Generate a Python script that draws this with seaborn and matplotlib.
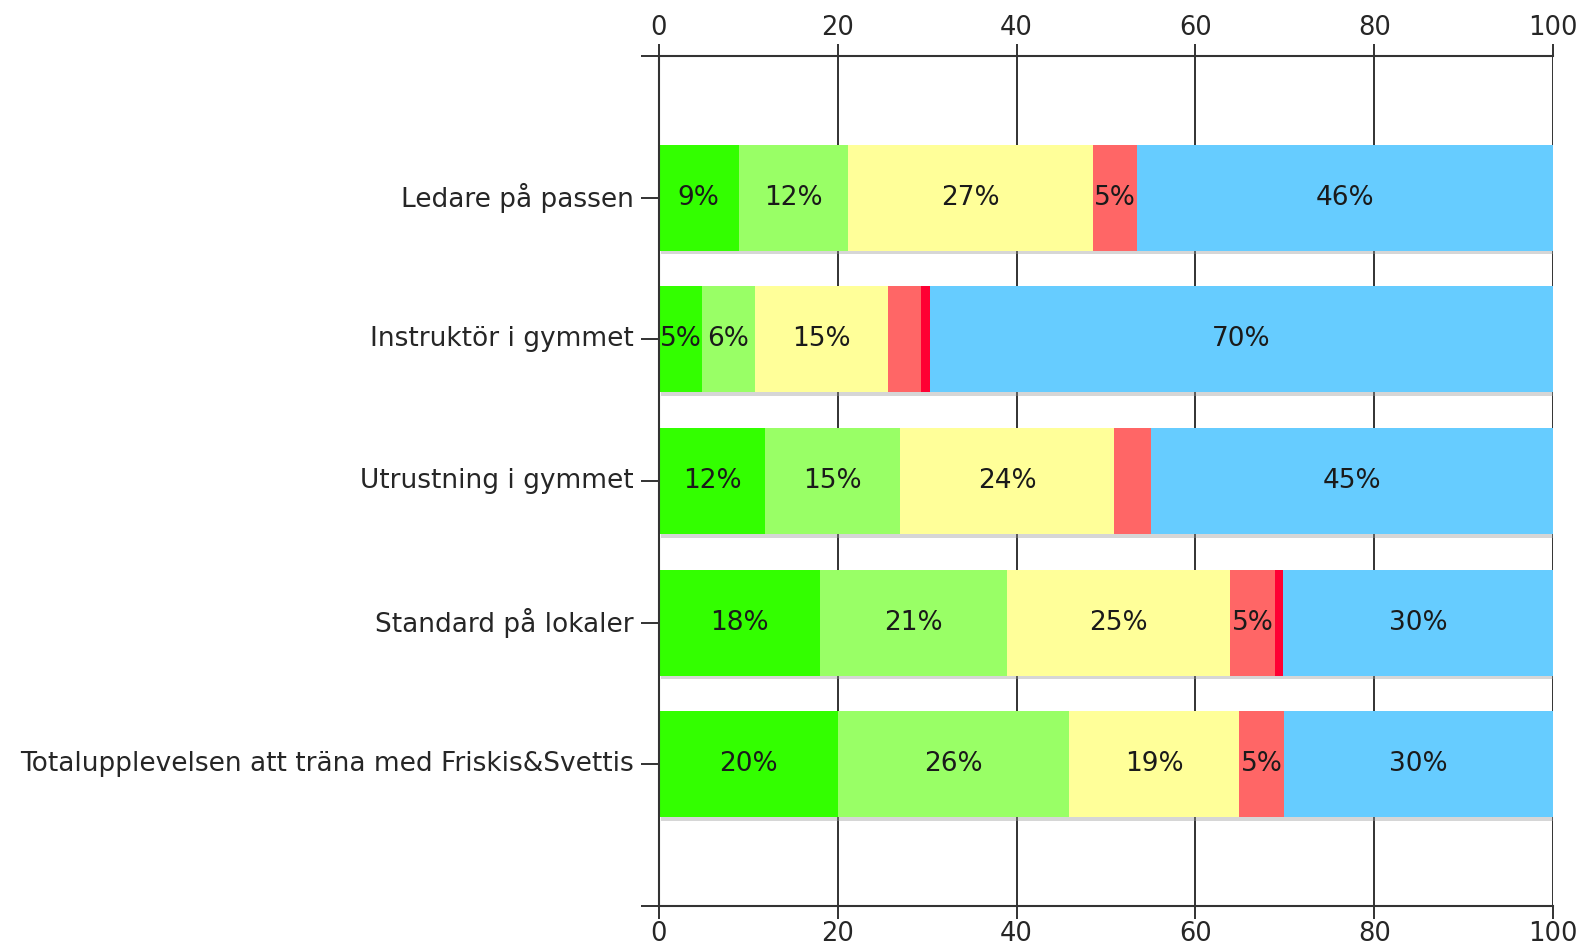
import matplotlib
matplotlib.use("Agg")
import matplotlib.pyplot as plt
import matplotlib.patheffects as pe
import numpy as np
import pandas as pd
import seaborn as sns

categories = [
    "Ledare på passen",
    "Instruktör i gymmet",
    "Utrustning i gymmet",
    "Standard på lokaler",
    "Totalupplevelsen att träna med Friskis&Svettis",
]
# share of answers per segment, percent
green = [8.9, 4.8, 11.9, 18.0, 20.0]
light_green = [12.2, 5.9, 15.1, 20.9, 25.9]
yellow = [27.4, 14.9, 23.9, 25.0, 19.0]
light_red = [5.0, 3.7, 4.1, 5.0, 5.0]
red = [0.0, 1.0, 0.0, 0.9, 0.0]
blue = [46.5, 69.7, 45.0, 30.2, 30.1]

series = [green, light_green, yellow, light_red, red, blue]
colors = ["#33FF00", "#99FF66", "#FFFF99", "#FF6666", "#FF0033", "#66CCFF"]

sns.set_style("white")
plt.rcParams["font.family"] = ["DejaVu Sans"]
plt.rcParams["text.color"] = "#1a1a1a"

fig = plt.figure(figsize=(15.95, 9.5), dpi=100)
ax = fig.add_axes([659 / 1595, 1 - 906 / 950, (1553 - 659) / 1595, (906 - 56) / 950])

vals = np.array(series)
cum = vals.cumsum(axis=0)
left = cum - vals

# draw cumulative layers from the longest down so each segment shows
for i in range(len(series) - 1, -1, -1):
    df = pd.DataFrame({"cat": categories, "val": cum[i]})
    sns.barplot(data=df, x="val", y="cat", orient="h", color=colors[i],
                saturation=1, width=0.75, ax=ax, zorder=2, linewidth=0)
    if i == len(series) - 1:
        for p in ax.patches:
            p.set_path_effects([pe.SimplePatchShadow(offset=(1.5, -2.5), shadow_rgbFace="0.6", alpha=0.4), pe.Normal()])

# percent labels in the middle of each segment
for i, s in enumerate(series):
    for j, v in enumerate(s):
        if round(v) >= 5:
            ax.text(left[i][j] + v / 2, j, f"{round(v)}%", ha="center", va="center",
                    fontsize=19, color="#1a1a1a", zorder=4)

ax.set_xlim(0, 100)
ax.set_ylim(5, -1)
ax.set_xticks(range(0, 101, 20))
ax.set_yticks([-1, 5], minor=True)
ax.set_xlabel("")
ax.set_ylabel("")

ax.grid(axis="x", color="#222222", linewidth=1.3, zorder=0)
ax.grid(axis="y", visible=False)
ax.set_axisbelow(True)

for side in ["top", "bottom", "left"]:
    ax.spines[side].set_visible(True)
    ax.spines[side].set_color("#333333")
    ax.spines[side].set_linewidth(1.5)
    ax.spines[side].set_zorder(5)
ax.spines["right"].set_visible(False)

ax.tick_params(axis="x", which="major", top=True, bottom=True, labeltop=True, labelbottom=True,
               direction="out", length=9, width=1.3, color="#222222", labelsize=18.5, pad=2)
ax.tick_params(axis="y", which="both", left=True, direction="out", length=13, width=1.3,
               color="#222222", labelsize=19, pad=5)
for lab in ax.get_yticklabels():
    lab.set_va("center")

plt.savefig("out.png", dpi=100)
